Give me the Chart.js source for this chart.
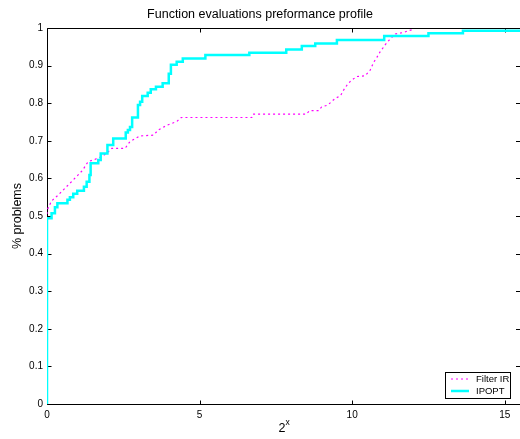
<!DOCTYPE html>
<html>
<head>
<meta charset="utf-8">
<script src="https://cdn.jsdelivr.net/npm/chart.js@4/dist/chart.umd.min.js"></script>
<style>
    html, body { margin: 0; padding: 0; background: #fff; }
    #wrap { width: 520px; height: 439px; }
</style>
</head>
<body>
<div id="wrap"><canvas id="myChart" width="520" height="439"></canvas></div>
<script>
const TITULO = 'Function evaluations preformance profile'
const ETIQUETA_X = ['2', 'x']   // base y exponente
const ETIQUETA_Y = '% problems'
const FUENTE = "'Liberation Sans', Arial, Helvetica, sans-serif"

const xTicks = [0, 5, 10, 15]
const yTicks = [0, 0.1, 0.2, 0.3, 0.4, 0.5, 0.6, 0.7, 0.8, 0.9, 1]
const X_MAX = 15.5

// Filter IR (linea punteada magenta)
const filterX = [0, 0, 0.15, 0.37, 0.53, 0.75, 0.97, 1.17, 1.35, 1.52, 1.79, 1.96, 2.12, 2.56, 2.72, 3.05, 3.49,
    3.65, 3.95, 4.25, 4.4, 6.71, 6.75, 8.5, 8.6, 8.9, 9.0, 9.2, 9.35, 9.45, 9.62, 9.72, 9.83, 9.95, 10.15,
    10.43, 10.59, 10.7, 10.81, 10.92, 11.08, 11.19, 11.41, 11.68, 11.85, 11.96]
const filterY = [0, 0.515, 0.54, 0.556, 0.569, 0.587, 0.605, 0.622, 0.645, 0.649, 0.658, 0.667, 0.68, 0.68, 0.698, 0.713, 0.715,
    0.729, 0.742, 0.751, 0.762, 0.762, 0.771, 0.771, 0.78, 0.78, 0.79, 0.795, 0.806, 0.813, 0.82, 0.835, 0.848, 0.859, 0.871,
    0.873, 0.888, 0.908, 0.922, 0.937, 0.955, 0.966, 0.984, 0.988, 0.993, 0.995]

// IPOPT (escalones cian)
const ipoptX = [0, 0, 0.15, 0.26, 0.34, 0.67, 0.75, 0.86, 0.99, 1.21, 1.30, 1.39, 1.43, 1.68, 1.76, 1.98, 2.17,
    2.58, 2.65, 2.72, 2.79, 2.98, 3.05, 3.12, 3.30, 3.40, 3.57, 3.79, 3.99, 4.06, 4.25, 4.45, 5.19, 6.63,
    7.84, 8.35, 8.79, 9.50, 11.05, 12.5, 13.63, 15.5]
const ipoptY = [0, 0.494, 0.507, 0.523, 0.534, 0.543, 0.55, 0.559, 0.567, 0.578, 0.591, 0.609, 0.64, 0.649, 0.666, 0.689, 0.706,
    0.722, 0.729, 0.737, 0.762, 0.795, 0.804, 0.819, 0.828, 0.837, 0.844, 0.853, 0.878, 0.902, 0.91, 0.919, 0.928, 0.934,
    0.943, 0.952, 0.959, 0.968, 0.979, 0.986, 0.993, 0.993]

const juntar = (xs, ys) => xs.map((x, i) => ({ x: x, y: ys[i] }))

const ejes = {
    id: 'ejes',
    beforeDatasetsDraw(chart) {
        const { ctx, chartArea: a, scales: { x, y } } = chart
        const L = Math.round(a.left) + 0.5
        const T = Math.round(a.top) + 0.5
        const B = Math.round(a.bottom) + 0.5
        const R = a.right
        ctx.save()
        ctx.strokeStyle = '#000'
        ctx.lineWidth = 1
        ctx.beginPath()
        ctx.moveTo(L, T); ctx.lineTo(R, T)
        ctx.moveTo(L, T); ctx.lineTo(L, B); ctx.lineTo(R, B)
        xTicks.forEach(v => {
            const px = Math.round(x.getPixelForValue(v)) + 0.5
            ctx.moveTo(px, B); ctx.lineTo(px, B - 4)
            ctx.moveTo(px, T); ctx.lineTo(px, T + 4)
        })
        yTicks.forEach(v => {
            const py = Math.round(y.getPixelForValue(v)) + 0.5
            ctx.moveTo(L, py); ctx.lineTo(L + 4, py)
            ctx.moveTo(R, py); ctx.lineTo(R - 4, py)
        })
        ctx.stroke()

        // titulos de ejes
        ctx.fillStyle = '#000'
        ctx.textBaseline = 'middle'
        const cx = (a.left + a.right) / 2
        ctx.font = '12.5px ' + FUENTE
        ctx.textAlign = 'right'
        ctx.fillText(ETIQUETA_X[0], cx + 2, 429)
        ctx.font = '8.5px ' + FUENTE
        ctx.textAlign = 'left'
        ctx.fillText(ETIQUETA_X[1], cx + 2, 423)

        ctx.translate(18, (a.top + a.bottom) / 2)
        ctx.rotate(-Math.PI / 2)
        ctx.font = '12.5px ' + FUENTE
        ctx.textAlign = 'center'
        ctx.fillText(ETIQUETA_Y, 0, 0)
        ctx.restore()
    },
    afterDraw(chart) {
        const { ctx } = chart
        ctx.save()
        ctx.fillStyle = '#fff'
        ctx.fillRect(445.5, 372.5, 65, 26)
        ctx.strokeStyle = '#000'
        ctx.lineWidth = 1
        ctx.strokeRect(445.5, 372.5, 65, 26)
        const filas = [379, 391]
        ctx.font = '9.5px ' + FUENTE
        ctx.textBaseline = 'middle'
        ctx.textAlign = 'left'
        chart.data.datasets.forEach((ds, i) => {
            const yy = filas[i]
            ctx.beginPath()
            ctx.strokeStyle = ds.borderColor
            ctx.lineWidth = ds.borderWidth
            ctx.setLineDash(ds.borderDash || [])
            ctx.moveTo(451, yy); ctx.lineTo(469, yy)
            ctx.stroke()
            ctx.setLineDash([])
            ctx.fillStyle = '#000'
            ctx.fillText(ds.label, 476, yy + 0.5)
        })
        ctx.restore()
    }
}

const ctx = document.getElementById('myChart').getContext('2d')

new Chart(ctx, {
    type: 'line',
    data: {
        datasets: [{
            label: 'Filter IR',
            data: juntar(filterX, filterY),
            borderColor: '#ff00ff',
            borderWidth: 1.2,
            borderDash: [2, 3],
            pointRadius: 0,
            fill: false,
            tension: 0,
            order: 2
        }, {
            label: 'IPOPT',
            data: juntar(ipoptX, ipoptY),
            borderColor: '#00ffff',
            borderWidth: 2.5,
            pointRadius: 0,
            fill: false,
            stepped: 'before',
            order: 1
        }]
    },
    options: {
        responsive: false,
        animation: false,
        devicePixelRatio: 1,
        layout: { padding: 0 },
        plugins: {
            legend: { display: false },
            tooltip: { enabled: false },
            title: {
                display: true,
                text: TITULO,
                color: '#000',
                font: { family: FUENTE, size: 12.5, weight: 'normal' },
                padding: { top: 7, bottom: 6 }
            }
        },
        scales: {
            x: {
                type: 'linear',
                min: 0,
                max: X_MAX,
                grid: { display: false, drawTicks: false, tickLength: 0 },
                border: { display: false },
                afterBuildTicks: s => { s.ticks = xTicks.map(v => ({ value: v })) },
                afterFit: s => { s.height = 35 },
                ticks: {
                    color: '#000',
                    padding: 5,
                    maxRotation: 0,
                    font: { family: FUENTE, size: 10 },
                    callback: v => String(v)
                }
            },
            y: {
                type: 'linear',
                min: 0,
                max: 1,
                grid: { display: false, drawTicks: false, tickLength: 0 },
                border: { display: false },
                afterBuildTicks: s => { s.ticks = yTicks.map(v => ({ value: v })) },
                afterFit: s => { s.width = 47 },
                ticks: {
                    color: '#000',
                    padding: 4,
                    font: { family: FUENTE, size: 10 },
                    callback: v => String(v)
                }
            }
        }
    },
    plugins: [ejes]
})
</script>
</body>
</html>
